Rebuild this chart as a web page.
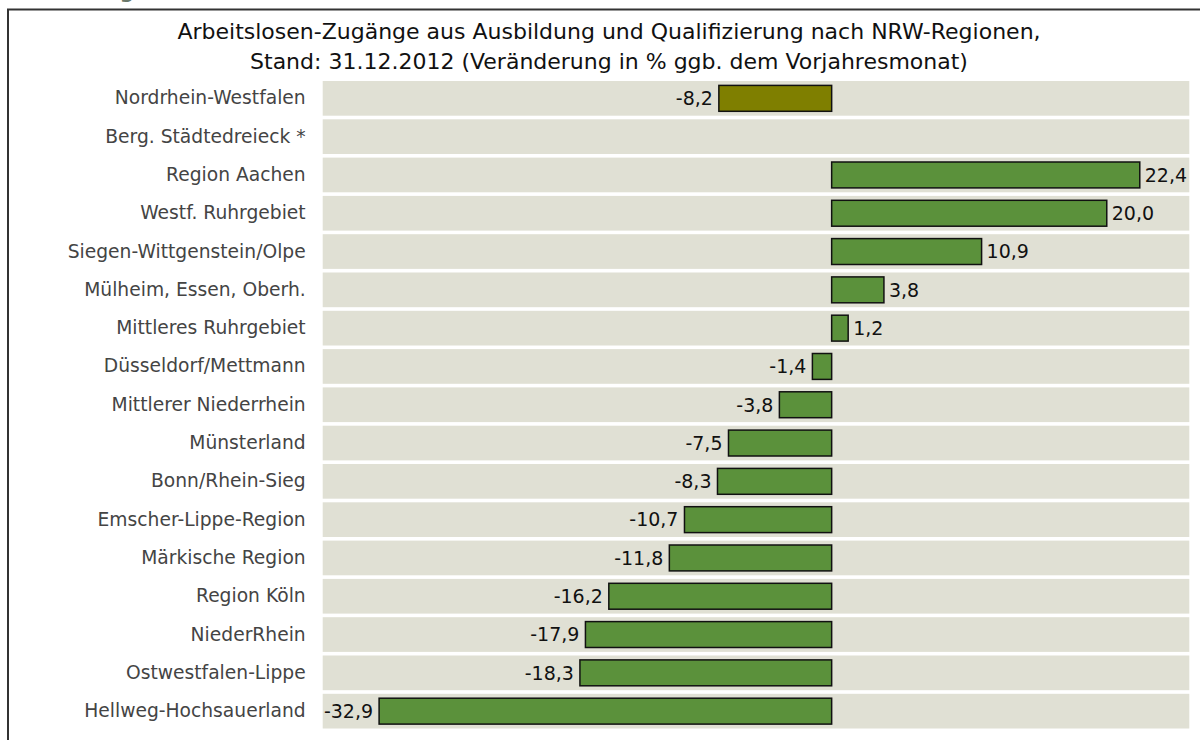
<!DOCTYPE html>
<html lang="de">
	<head>
		<meta charset="utf-8" />
		<title>Arbeitslosen-Zugänge NRW-Regionen</title>
		<script type="text/javascript" src="https://cdn.jsdelivr.net/npm/d3@7"></script>
		<style type="text/css">
			body { margin: 0; background: #fff; }
			svg { display: block; font-family: "DejaVu Sans", sans-serif; }
		</style>
	</head>
	<body>
		<script type="text/javascript">
			//Regions, top to bottom
			var regions = [
				"Nordrhein-Westfalen",
				"Berg. Städtedreieck *",
				"Region Aachen",
				"Westf. Ruhrgebiet",
				"Siegen-Wittgenstein/Olpe",
				"Mülheim, Essen, Oberh.",
				"Mittleres Ruhrgebiet",
				"Düsseldorf/Mettmann",
				"Mittlerer Niederrhein",
				"Münsterland",
				"Bonn/Rhein-Sieg",
				"Emscher-Lippe-Region",
				"Märkische Region",
				"Region Köln",
				"NiederRhein",
				"Ostwestfalen-Lippe",
				"Hellweg-Hochsauerland"
			];
			//Change in % vs. previous year (null = no value)
			var values = [-8.2, null, 22.4, 20.0, 10.9, 3.8, 1.2, -1.4, -3.8, -7.5, -8.3, -10.7, -11.8, -16.2, -17.9, -18.3, -32.9];
			var titleLines = [
				"Arbeitslosen-Zugänge aus Ausbildung und Qualifizierung nach NRW-Regionen,",
				"Stand: 31.12.2012 (Veränderung in % ggb. dem Vorjahresmonat)"
			];

			var w = 1200;
			var h = 740;
			var plotLeft = 322.7;
			var plotRight = 1189.3;

			var svg = d3
				.select("body")
				.append("svg")
				.attr("width", w)
				.attr("height", h);

			//cut-off heading above the frame
			svg.append("text")
				.attr("x", 134)
				.attr("y", -2)
				.attr("text-anchor", "end")
				.attr("font-size", 20)
				.attr("font-weight", "bold")
				.attr("fill", "#6a786a")
				.text("g");

			//frame
			svg.append("path")
				.attr("d", "M8,760 V9.5 H1210")
				.attr("fill", "none")
				.attr("stroke", "#333")
				.attr("stroke-width", 2);

			//title
			svg.append("g")
				.selectAll("text")
				.data(titleLines)
				.enter()
				.append("text")
				.attr("x", 609)
				.attr("y", function(d, i) {
					return 39 + i * 30;
				})
				.attr("text-anchor", "middle")
				.attr("font-size", 22)
				.attr("fill", "#111")
				.text(function(d) {
					return d;
				});

			var xScale = d3
				.scaleLinear()
				.domain([-37, 26])
				.range([plotLeft, plotRight]);

			var yScale = d3
				.scaleBand()
				.domain(regions)
				.range([79.2, 730.3])
				.paddingInner(0.094)
				.paddingOuter(0.047);

			var barInset = 4.4;

			//row backgrounds
			svg.append("g")
				.selectAll("rect")
				.data(regions)
				.enter()
				.append("rect")
				.attr("x", plotLeft)
				.attr("y", function(d) {
					return yScale(d);
				})
				.attr("width", plotRight - plotLeft)
				.attr("height", yScale.bandwidth())
				.attr("fill", "#e0e0d4");

			//category labels
			var yAxis = d3
				.axisLeft()
				.scale(yScale)
				.tickSize(0)
				.tickPadding(17);
			var ya = svg.append("g")
				.attr("class", "y axis")
				.attr("transform", "translate(" + plotLeft + ",0)")
				.call(yAxis);
			ya.select(".domain").remove();
			ya.selectAll("text")
				.attr("font-family", "DejaVu Sans, sans-serif")
				.attr("font-size", 18.7)
				.attr("fill", "#444");

			var data = regions.map(function(r, i) {
				return { region: r, value: values[i], total: i === 0 };
			}).filter(function(d) {
				return d.value !== null;
			});

			//bars
			svg.append("g")
				.selectAll("rect")
				.data(data)
				.enter()
				.append("rect")
				.attr("x", function(d) {
					return xScale(Math.min(0, d.value));
				})
				.attr("y", function(d) {
					return yScale(d.region) + barInset;
				})
				.attr("width", function(d) {
					return Math.abs(xScale(d.value) - xScale(0));
				})
				.attr("height", yScale.bandwidth() - barInset * 2)
				.attr("fill", function(d) {
					return d.total ? "#7f7f00" : "#5b913b";
				})
				.attr("stroke", "#111")
				.attr("stroke-width", 1.5);

			//value labels
			svg.append("g")
				.selectAll("text")
				.data(data)
				.enter()
				.append("text")
				.attr("x", function(d) {
					return d.value < 0 ? xScale(d.value) - 6 : xScale(d.value) + 5;
				})
				.attr("y", function(d) {
					return yScale(d.region) + yScale.bandwidth() / 2;
				})
				.attr("dy", "0.36em")
				.attr("text-anchor", function(d) {
					return d.value < 0 ? "end" : "start";
				})
				.attr("font-size", 19)
				.attr("fill", "#111")
				.text(function(d) {
					return d.value.toFixed(1).replace(".", ",");
				});
		</script>
	</body>
</html>
